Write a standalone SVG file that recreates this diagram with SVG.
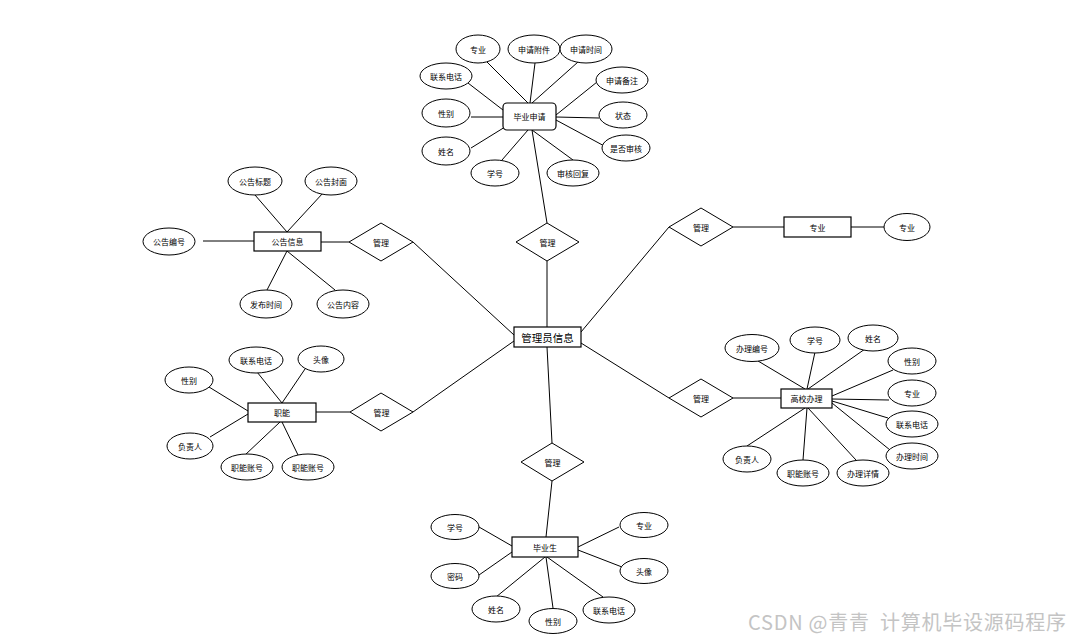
<svg xmlns="http://www.w3.org/2000/svg" width="1070" height="640" viewBox="0 0 1070 640">
<style>
.e{fill:#fff;stroke:#000;stroke-width:1}
.r{fill:#fff;stroke:#000;stroke-width:1.2}
.d{fill:#fff;stroke:#000;stroke-width:1}
.t{font-family:"Noto Sans CJK SC","Noto Sans",sans-serif;font-size:8px;fill:#000;text-anchor:middle;dominant-baseline:central}
.big{font-size:10.5px}
.c line{stroke:#000;stroke-width:1}
.wm{font-family:"Noto Sans CJK SC","Liberation Sans",sans-serif;font-size:20px;fill:#c4c4c4}
</style>
<rect width="1070" height="640" fill="#fff"/>
<g class="c" id="connectors">
<!-- 毕业申请 -->
<line x1="487" y1="62" x2="528" y2="103"/>
<line x1="535" y1="63" x2="530" y2="103"/>
<line x1="578" y1="62" x2="532" y2="103"/>
<line x1="468" y1="83" x2="503" y2="110"/>
<line x1="471" y1="117" x2="503" y2="117"/>
<line x1="471" y1="148" x2="505" y2="127"/>
<line x1="502" y1="160" x2="528" y2="130"/>
<line x1="573" y1="160" x2="532" y2="130"/>
<line x1="597" y1="82" x2="556" y2="115"/>
<line x1="599" y1="118" x2="556" y2="117"/>
<line x1="608" y1="148" x2="556" y2="120"/>
<line x1="532" y1="130" x2="547" y2="223"/>
<line x1="547" y1="261" x2="547" y2="327"/>
<!-- 专业 -->
<line x1="581" y1="332" x2="669" y2="227"/>
<line x1="733" y1="227" x2="784" y2="227"/>
<line x1="851" y1="227" x2="884" y2="227"/>
<!-- 公告信息 -->
<line x1="203" y1="241" x2="254" y2="241"/>
<line x1="255" y1="195" x2="287" y2="232"/>
<line x1="323" y1="193" x2="287" y2="232"/>
<line x1="267" y1="290" x2="287" y2="251"/>
<line x1="335" y1="290" x2="287" y2="251"/>
<line x1="321" y1="242" x2="349" y2="242"/>
<line x1="413" y1="242" x2="514" y2="335"/>
<!-- 职能 -->
<line x1="257" y1="372" x2="282" y2="403"/>
<line x1="305" y1="369" x2="282" y2="403"/>
<line x1="209" y1="387" x2="248" y2="411"/>
<line x1="210" y1="437" x2="248" y2="414"/>
<line x1="245" y1="455" x2="280" y2="422"/>
<line x1="298" y1="455" x2="282" y2="422"/>
<line x1="316" y1="412" x2="350" y2="412"/>
<line x1="413" y1="412" x2="514" y2="341"/>
<!-- 高校办理 -->
<line x1="581" y1="343" x2="669" y2="398"/>
<line x1="733" y1="398" x2="781" y2="398"/>
<line x1="753" y1="358" x2="805" y2="389"/>
<line x1="815" y1="352" x2="807" y2="389"/>
<line x1="865" y1="349" x2="808" y2="389"/>
<line x1="893" y1="370" x2="832" y2="396"/>
<line x1="889" y1="400" x2="832" y2="399"/>
<line x1="888" y1="418" x2="832" y2="401"/>
<line x1="890" y1="450" x2="832" y2="403"/>
<line x1="747" y1="446" x2="805" y2="408"/>
<line x1="803" y1="460" x2="807" y2="408"/>
<line x1="856" y1="460" x2="808" y2="408"/>
<!-- 毕业生 -->
<line x1="547" y1="347" x2="552" y2="443"/>
<line x1="552" y1="481" x2="546" y2="537"/>
<line x1="479" y1="527" x2="512" y2="546"/>
<line x1="479" y1="575" x2="512" y2="552"/>
<line x1="496" y1="597" x2="545" y2="557"/>
<line x1="553" y1="608" x2="546" y2="557"/>
<line x1="603" y1="597" x2="547" y2="557"/>
<line x1="619" y1="527" x2="578" y2="547"/>
<line x1="622" y1="567" x2="578" y2="550"/>
</g>

<g id="admin"><rect class="r" x="514" y="327" width="67" height="20"/><text class="t big" x="547.5" y="337">管理员信息</text></g>

<!-- 毕业申请 cluster -->
<g id="apply"><rect class="r" x="503" y="103" width="53" height="27" rx="4"/><text class="t" x="529.5" y="116.5">毕业申请</text></g>
<g id="apply-major"><ellipse class="e" cx="478" cy="49" rx="22" ry="14"/><text class="t" x="478" y="49">专业</text></g>
<g id="apply-attach"><ellipse class="e" cx="534" cy="49" rx="26" ry="14"/><text class="t" x="534" y="49">申请附件</text></g>
<g id="apply-time"><ellipse class="e" cx="586" cy="49" rx="26" ry="14"/><text class="t" x="586" y="49">申请时间</text></g>
<g id="apply-phone"><ellipse class="e" cx="446" cy="76" rx="26" ry="13"/><text class="t" x="446" y="76">联系电话</text></g>
<g id="apply-note"><ellipse class="e" cx="622" cy="80" rx="26" ry="13"/><text class="t" x="622" y="80">申请备注</text></g>
<g id="apply-sex"><ellipse class="e" cx="446" cy="113" rx="24" ry="14"/><text class="t" x="446" y="113">性别</text></g>
<g id="apply-state"><ellipse class="e" cx="623" cy="115" rx="24" ry="13"/><text class="t" x="623" y="115">状态</text></g>
<g id="apply-name"><ellipse class="e" cx="446" cy="151" rx="24" ry="14"/><text class="t" x="446" y="151">姓名</text></g>
<g id="apply-audit"><ellipse class="e" cx="626" cy="148" rx="24" ry="13"/><text class="t" x="626" y="148">是否审核</text></g>
<g id="apply-no"><ellipse class="e" cx="495" cy="173" rx="24" ry="13"/><text class="t" x="495" y="173">学号</text></g>
<g id="apply-reply"><ellipse class="e" cx="573" cy="173" rx="26" ry="13"/><text class="t" x="573" y="173">审核回复</text></g>
<g id="dia-apply"><polygon class="d" points="547,223 579,242 547,261 516,242"/><text class="t" x="547.5" y="242">管理</text></g>

<!-- 专业 -->
<g id="dia-major"><polygon class="d" points="701,208 733,227 701,246 669,227"/><text class="t" x="701" y="227">管理</text></g>
<g id="major"><rect class="r" x="784" y="217" width="67" height="20"/><text class="t" x="817.5" y="227">专业</text></g>
<g id="major-attr"><ellipse class="e" cx="907" cy="227" rx="23" ry="13.5"/><text class="t" x="907" y="227">专业</text></g>

<!-- 公告信息 -->
<g id="notice"><rect class="r" x="254" y="232" width="67" height="19"/><text class="t" x="287.5" y="241.5">公告信息</text></g>
<g id="notice-title"><ellipse class="e" cx="255" cy="181" rx="27" ry="14"/><text class="t" x="255" y="181">公告标题</text></g>
<g id="notice-cover"><ellipse class="e" cx="331" cy="181" rx="26" ry="14"/><text class="t" x="331" y="181">公告封面</text></g>
<g id="notice-no"><ellipse class="e" cx="169" cy="241.5" rx="26" ry="13.5"/><text class="t" x="169" y="241.5">公告编号</text></g>
<g id="notice-time"><ellipse class="e" cx="266" cy="304" rx="26" ry="14"/><text class="t" x="266" y="304">发布时间</text></g>
<g id="notice-content"><ellipse class="e" cx="343" cy="304" rx="26" ry="14"/><text class="t" x="343" y="304">公告内容</text></g>
<g id="dia-notice"><polygon class="d" points="381,223 413,242 381,261 349,242"/><text class="t" x="381" y="242">管理</text></g>

<!-- 职能 -->
<g id="func"><rect class="r" x="248" y="403" width="68" height="19"/><text class="t" x="282" y="412.5">职能</text></g>
<g id="func-phone"><ellipse class="e" cx="256" cy="360" rx="27" ry="13"/><text class="t" x="256" y="360">联系电话</text></g>
<g id="func-avatar"><ellipse class="e" cx="321" cy="359" rx="23" ry="13"/><text class="t" x="321" y="359">头像</text></g>
<g id="func-sex"><ellipse class="e" cx="189" cy="380" rx="24" ry="13"/><text class="t" x="189" y="380">性别</text></g>
<g id="func-lead"><ellipse class="e" cx="190" cy="446" rx="23" ry="13"/><text class="t" x="190" y="446">负责人</text></g>
<g id="func-acc1"><ellipse class="e" cx="247" cy="467" rx="26" ry="13"/><text class="t" x="247" y="467">职能账号</text></g>
<g id="func-acc2"><ellipse class="e" cx="308" cy="467" rx="26" ry="13"/><text class="t" x="308" y="467">职能账号</text></g>
<g id="dia-func"><polygon class="d" points="381,393 413,412 381,431 350,412"/><text class="t" x="381.5" y="412">管理</text></g>

<!-- 高校办理 -->
<g id="handle"><rect class="r" x="781" y="389" width="51" height="19"/><text class="t" x="806.5" y="398.5">高校办理</text></g>
<g id="dia-handle"><polygon class="d" points="701,379 733,398 701,417 669,398"/><text class="t" x="701" y="398">管理</text></g>
<g id="h-no"><ellipse class="e" cx="752" cy="348" rx="27" ry="13.5"/><text class="t" x="752" y="348">办理编号</text></g>
<g id="h-sno"><ellipse class="e" cx="815" cy="340" rx="25" ry="13"/><text class="t" x="815" y="340">学号</text></g>
<g id="h-name"><ellipse class="e" cx="873" cy="338" rx="25" ry="13"/><text class="t" x="873" y="338">姓名</text></g>
<g id="h-sex"><ellipse class="e" cx="912" cy="361" rx="24" ry="13"/><text class="t" x="912" y="361">性别</text></g>
<g id="h-major"><ellipse class="e" cx="912" cy="393" rx="24" ry="13"/><text class="t" x="912" y="393">专业</text></g>
<g id="h-phone"><ellipse class="e" cx="912" cy="424" rx="26" ry="13"/><text class="t" x="912" y="424">联系电话</text></g>
<g id="h-time"><ellipse class="e" cx="912" cy="456" rx="26" ry="13"/><text class="t" x="912" y="456">办理时间</text></g>
<g id="h-lead"><ellipse class="e" cx="747" cy="459" rx="24" ry="13"/><text class="t" x="747" y="459">负责人</text></g>
<g id="h-acc"><ellipse class="e" cx="803" cy="473" rx="26" ry="13"/><text class="t" x="803" y="473">职能账号</text></g>
<g id="h-detail"><ellipse class="e" cx="863" cy="473" rx="26" ry="13"/><text class="t" x="863" y="473">办理详情</text></g>

<!-- 毕业生 -->
<g id="dia-grad"><polygon class="d" points="552,443 584,462 552,481 521,462"/><text class="t" x="552.5" y="462">管理</text></g>
<g id="grad"><rect class="r" x="512" y="537" width="66" height="20"/><text class="t" x="545" y="547">毕业生</text></g>
<g id="g-no"><ellipse class="e" cx="455" cy="527" rx="24" ry="12.5"/><text class="t" x="455" y="527">学号</text></g>
<g id="g-pwd"><ellipse class="e" cx="455" cy="576" rx="24" ry="12.5"/><text class="t" x="455" y="576">密码</text></g>
<g id="g-name"><ellipse class="e" cx="496" cy="609" rx="24" ry="13"/><text class="t" x="496" y="609">姓名</text></g>
<g id="g-sex"><ellipse class="e" cx="553" cy="621" rx="24" ry="12.5"/><text class="t" x="553" y="621">性别</text></g>
<g id="g-phone"><ellipse class="e" cx="609" cy="610" rx="26" ry="13"/><text class="t" x="609" y="610">联系电话</text></g>
<g id="g-major"><ellipse class="e" cx="644" cy="525" rx="24" ry="12.5"/><text class="t" x="644" y="525">专业</text></g>
<g id="g-avatar"><ellipse class="e" cx="644" cy="571" rx="24" ry="12.5"/><text class="t" x="644" y="571">头像</text></g>

<text class="wm" x="748" y="630" xml:space="preserve" textLength="318" lengthAdjust="spacing">CSDN @青青  计算机毕设源码程序</text>
</svg>
